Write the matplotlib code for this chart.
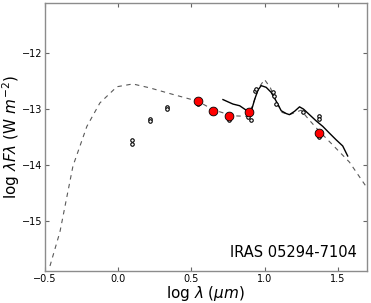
import matplotlib
matplotlib.use("Agg")
import matplotlib.pyplot as plt

# Model (dashed)
model_x = [-0.466, -0.398, -0.309, -0.214, -0.125, -0.009, 0.100, 0.216, 0.35, 0.545, 0.648, 0.78, 0.886, 0.93, 0.96, 1.0, 1.04, 1.08, 1.12, 1.17, 1.25, 1.30, 1.375, 1.45, 1.58, 1.70]
model_y = [-15.81, -15.20, -14.02, -13.31, -12.89, -12.60, -12.55, -12.62, -12.72, -12.86, -13.01, -13.12, -13.13, -12.85, -12.62, -12.47, -12.62, -12.86, -13.06, -13.10, -13.02, -13.18, -13.40, -13.60, -13.95, -14.41]

# Spectrum (solid)
spec_x = [0.716, 0.784, 0.830, 0.886, 0.909, 0.932, 0.955, 0.977, 1.011, 1.045, 1.080, 1.114, 1.148, 1.170, 1.205, 1.239, 1.266, 1.307, 1.352, 1.398, 1.443, 1.489, 1.534, 1.568]
spec_y = [-12.83, -12.91, -12.94, -13.04, -13.04, -12.83, -12.66, -12.58, -12.61, -12.70, -12.86, -13.03, -13.08, -13.10, -13.04, -12.96, -13.00, -13.10, -13.21, -13.31, -13.43, -13.55, -13.66, -13.84]

# Photometry (red)
phot_x = [0.545, 0.648, 0.755, 0.891, 1.370]
phot_y = [-12.86, -13.03, -13.12, -13.05, -13.42]

# Other epochs (small open circles)
ep_x = [0.091, 0.091, 0.214, 0.214, 0.334, 0.334, 0.545, 0.648, 0.755, 0.89, 0.91, 0.932, 0.945, 1.057, 1.062, 1.08, 1.26, 1.375, 1.375, 1.37]
ep_y = [-13.56, -13.62, -13.17, -13.21, -12.96, -13.00, -12.90, -13.06, -13.19, -13.14, -13.19, -12.68, -12.64, -12.69, -12.76, -12.91, -13.05, -13.12, -13.17, -13.50]

fig = plt.figure(figsize=(3.71, 3.03), dpi=100)
ax = fig.add_axes([45/371, 1-271/303, 322/371, 268/303])

ax.plot(model_x, model_y, ls=(0, (4, 4)), color="0.35", lw=0.8)
ax.plot(spec_x, spec_y, color="black", lw=1.0)
ax.plot(ep_x, ep_y, "o", mfc="white", mec="black", ms=2.5, mew=0.8)
ax.plot(phot_x, phot_y, "o", mfc="red", mec="black", ms=6.3, mew=0.6)

for s in ax.spines.values():
    s.set_color("0.55")
    s.set_linewidth(1.0)

ax.set_xlim(-0.5, 1.7)
ax.set_ylim(-15.9, -11.1)
ax.set_xticks([-0.5, 0.0, 0.5, 1.0, 1.5])
ax.set_yticks([-15, -14, -13, -12])
ax.tick_params(direction="in", top=True, right=True, labelsize=7, length=3, pad=2, color="0.4")
ax.set_xlabel(r"log $\lambda$ ($\mu m$)", fontsize=11, labelpad=0)
ax.set_ylabel(r"log $\lambda F\lambda$ (W $m^{-2}$)", fontsize=11)
ax.yaxis.set_label_coords(-0.07, 0.5)
ax.text(0.97, 0.04, "IRAS 05294-7104", transform=ax.transAxes, ha="right", va="bottom", fontsize=10.5)

fig.savefig("out.png", dpi=100)
